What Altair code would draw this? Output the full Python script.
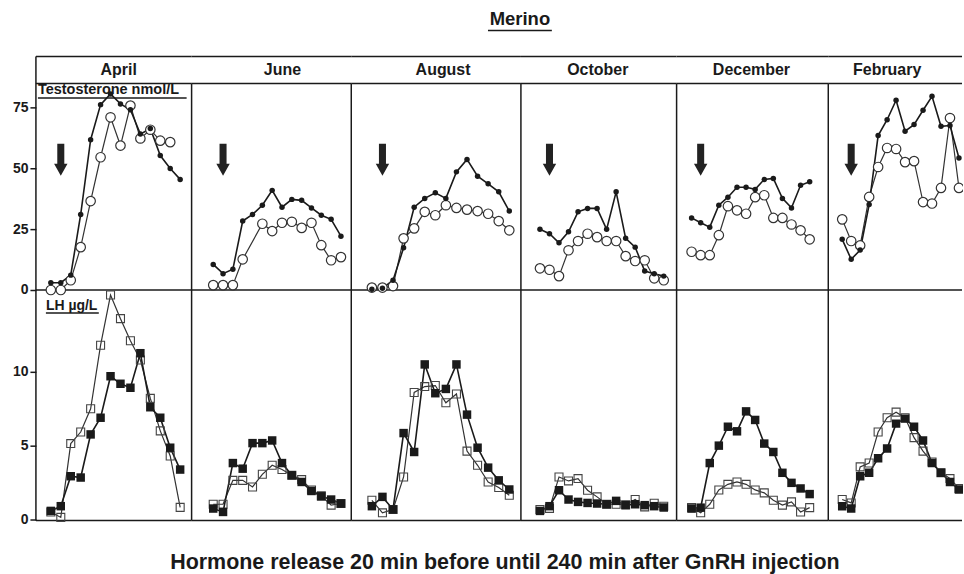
import altair as alt
import pandas as pd

# ---------------- data ----------------
months = ["April", "June", "August", "October", "December", "February"]
times = [-20, 0, 20, 40, 60, 80, 100, 120, 140, 160, 180, 200, 220, 240]

# Testosterone (nmol/L) - filled circles
apr_t_filled = [3.0, 3.0, 6.1, 31.0, 61.7, 76.1, 80.5, 76.4, 74.0, 64.0, 66.3, 55.2, 49.9, 45.4]
jun_t_filled = [10.5, 6.7, 8.5, 28.3, 31.0, 34.8, 40.9, 34.0, 37.2, 36.8, 33.7, 30.7, 29.0, 22.1]
aug_t_filled = [0.3, 0.7, 4.0, 17.3, 34.0, 37.6, 39.9, 37.6, 48.5, 53.6, 46.7, 43.6, 40.3, 32.4]
oct_t_filled = [24.9, 23.1, 19.4, 23.9, 32.1, 33.5, 33.5, 24.9, 40.3, 21.2, 17.6, 7.8, 6.7, 5.7]
dec_t_filled = [29.6, 27.6, 25.8, 34.8, 38.1, 42.2, 42.2, 41.3, 45.4, 45.8, 37.6, 33.7, 43.0, 44.4]
feb_t_filled = [20.8, 12.6, 16.4, 35.1, 63.4, 69.9, 77.9, 65.2, 67.9, 73.8, 79.5, 67.2, 67.5, 54.2]

# Testosterone - open circles
apr_t_open = [0.0, 0.0, 4.0, 17.6, 36.5, 54.5, 70.9, 59.3, 75.7, 62.2, 65.8, 61.3, 60.7, None]
jun_t_open = [2.0, 2.0, 2.0, 12.6, None, 27.2, 24.2, 27.6, 28.0, 25.5, 27.6, 18.4, 12.2, 13.5]
aug_t_open = [1.0, 1.0, 1.6, 21.2, 25.3, 32.1, 30.7, 34.8, 33.7, 33.0, 32.4, 31.3, 28.3, 24.5]
oct_t_open = [8.9, 8.3, 5.7, 16.3, 20.1, 23.1, 21.7, 20.1, 20.1, 13.9, 11.9, 12.2, 4.8, 4.0]
dec_t_open = [15.7, 14.3, 14.3, 22.5, 34.4, 32.7, 31.3, 38.1, 38.9, 29.6, 29.6, 26.9, 24.5, 20.8]
feb_t_open = [29.0, 20.1, 18.3, 38.2, 50.5, 58.3, 57.9, 52.5, 52.9, 36.1, 35.5, 41.9, 70.6, 41.9]

# LH (ug/L) - filled squares
apr_lh_filled = [0.58, 0.9, 2.93, 2.84, 5.76, 6.89, 9.7, 9.19, 8.92, 11.26, 7.6, 6.89, 4.86, 3.38]
jun_lh_filled = [0.74, 0.51, 3.82, 3.44, 5.17, 5.17, 5.35, 3.82, 2.99, 2.54, 1.93, 1.57, 1.35, 1.08]
aug_lh_filled = [0.9, 1.53, 0.68, 5.85, 4.57, 10.5, 8.55, 8.84, 10.5, 7.1, 4.86, 3.51, 2.65, 2.03]
oct_lh_filled = [0.58, 0.9, 1.98, 1.35, 1.19, 1.12, 1.08, 1.03, 1.26, 0.97, 1.03, 0.97, 0.9, 0.81]
dec_lh_filled = [0.74, 0.8, 3.82, 5.0, 6.28, 5.97, 7.32, 6.74, 5.14, 4.57, 3.16, 2.48, 2.1, 1.72]
feb_lh_filled = [0.9, 0.74, 2.93, 3.16, 4.14, 4.8, 6.49, 6.83, 6.28, 5.35, 3.82, 3.16, 2.54, 2.03]

# LH - open squares
apr_lh_open = [0.51, 0.14, 5.14, 5.92, 7.5, 11.8, 15.2, 13.6, 12.1, 10.8, 8.2, 6.0, 4.3, 0.82]
jun_lh_open = [1.03, 1.03, 2.65, 2.65, 2.2, 3.06, 3.67, 3.38, 2.99, 2.7, 2.0, 1.6, 0.97, 1.08]
aug_lh_open = [1.3, 0.45, 0.68, 2.88, 8.6, 9.0, 9.07, 7.9, 8.5, 4.63, 3.67, 2.54, 2.16, 1.64]
oct_lh_open = [0.68, 0.75, 2.88, 2.61, 2.77, 1.98, 1.53, 1.03, 1.03, 1.0, 1.35, 0.85, 1.1, 0.9]
dec_lh_open = [0.8, 0.45, 1.03, 2.0, 2.38, 2.54, 2.38, 2.0, 1.8, 1.3, 0.97, 1.19, 0.51, 0.8]
feb_lh_open = [1.35, 1.12, 3.56, 3.82, 5.92, 6.89, 7.27, 6.89, 5.54, 4.63, 3.89, 3.16, 2.77, 2.1]

t_ticks = [0, 25, 50, 75]
lh_ticks = [0, 5, 10]
gnrh_time = 0

t_filled = [apr_t_filled, jun_t_filled, aug_t_filled, oct_t_filled, dec_t_filled, feb_t_filled]
t_open = [apr_t_open, jun_t_open, aug_t_open, oct_t_open, dec_t_open, feb_t_open]
lh_filled = [apr_lh_filled, jun_lh_filled, aug_lh_filled, oct_lh_filled, dec_lh_filled, feb_lh_filled]
lh_open = [apr_lh_open, jun_lh_open, aug_lh_open, oct_lh_open, dec_lh_open, feb_lh_open]

# ---------------- layout / style ----------------
FONT = "Liberation Sans"
INK = "#1a1a1a"
widths = [156, 160, 170, 156, 152, 135]
xdomains = [[-50, 263], [-64, 261], [-59, 262], [-60, 267], [-53, 281], [-51, 249]]
month_x = [83, 91, 92, 77, 75, 59]
T_H, LH_H = 289, 285
T_DOMAIN = [0, 118.4]
LH_DOMAIN = [-3.72, 15.54]
ARROW = "M-0.22,-1L0.22,-1L0.22,0.25L0.42,0.25L0,1L-0.42,0.25L-0.22,0.25Z"

one = pd.DataFrame({"k": [0]})


def long_df(filled, opened):
    rows = []
    for t, v in zip(times, filled):
        if v is not None:
            rows.append({"time": t, "value": v, "series": "filled"})
    for t, v in zip(times, opened):
        if v is not None:
            rows.append({"time": t, "value": v, "series": "open"})
    return pd.DataFrame(rows)


def yaxis(vals):
    return alt.Axis(values=vals, title=None, domain=False, grid=False, tickSize=6,
                    tickWidth=1.5, tickColor=INK, labelFont=FONT, labelFontSize=14,
                    labelFontWeight="bold", labelColor=INK, labelPadding=2,
                    minExtent=35, maxExtent=35)


def hrule(w, y, x0=0):
    return alt.Chart(one).mark_rule(color=INK, strokeWidth=1.5).encode(
        x=alt.value(x0), x2=alt.value(w), y=alt.value(y))


def vrule(y0, y1):
    return alt.Chart(one).mark_rule(color=INK, strokeWidth=1.5).encode(
        x=alt.value(0), y=alt.value(y0), y2=alt.value(y1))


def label(text, x, y, size, align="center"):
    return alt.Chart(one).mark_text(text=text, font=FONT, fontSize=size, fontWeight="bold",
                                    color=INK, align=align, baseline="middle").encode(
        x=alt.value(x), y=alt.value(y))


def t_panel(i):
    w = widths[i]
    wr = w - 1 if i == 5 else w
    clip = i == 5
    df = long_df(t_filled[i], t_open[i])
    base = alt.Chart(df).encode(
        x=alt.X("time:Q", scale=alt.Scale(domain=xdomains[i], nice=False, zero=False), axis=None),
        y=alt.Y("value:Q", scale=alt.Scale(domain=T_DOMAIN, nice=False, zero=False),
                axis=yaxis(t_ticks) if i == 0 else None),
    )
    op = base.transform_filter(alt.datum.series == "open")
    fi = base.transform_filter(alt.datum.series == "filled")
    layers = [
        hrule(wr, 55), hrule(wr, 82), hrule(wr, 289),
        vrule(55 if i == 0 else 82, 289),
        op.mark_line(color="#333333", strokeWidth=1.2, clip=clip),
        fi.mark_line(color=INK, strokeWidth=1.6, clip=clip),
        op.mark_point(shape="circle", size=90, filled=True, color="white", stroke="#333333",
                      strokeWidth=1.2, opacity=1, clip=clip),
        fi.mark_point(shape="circle", size=30, filled=True, color=INK, opacity=1, clip=clip),
        alt.Chart(pd.DataFrame({"time": [gnrh_time], "value": [53.5]})).mark_point(
            shape=ARROW, size=1024, filled=True, color="#222222", opacity=1).encode(
            x="time:Q", y="value:Q"),
        label(months[i], month_x[i], 69, 16),
    ]
    if i == 0:
        layers.append(label("Testosterone nmol/L", 2, 89, 14.5, align="left"))
        layers.append(hrule(151, 96.5, 2))
    if i == 2:
        layers.append(label("Merino", 169, 17, 18.5))
        layers.append(hrule(201, 29, 137))
    return alt.layer(*layers).properties(width=w, height=T_H)


def lh_panel(i):
    w = widths[i]
    wr = w - 1 if i == 5 else w
    clip = i == 5
    df = long_df(lh_filled[i], lh_open[i])
    base = alt.Chart(df).encode(
        x=alt.X("time:Q", scale=alt.Scale(domain=xdomains[i], nice=False, zero=False), axis=None),
        y=alt.Y("value:Q", scale=alt.Scale(domain=LH_DOMAIN, nice=False, zero=False),
                axis=yaxis(lh_ticks) if i == 0 else None),
    )
    op = base.transform_filter(alt.datum.series == "open")
    fi = base.transform_filter(alt.datum.series == "filled")
    layers = [
        hrule(wr, 231), vrule(0, 231),
        op.mark_line(color="#333333", strokeWidth=1.2, clip=clip),
        fi.mark_line(color=INK, strokeWidth=1.6, clip=clip),
        op.mark_point(shape="square", size=64, filled=False, color="#444444",
                      strokeWidth=1.1, opacity=1, clip=clip),
        fi.mark_point(shape="square", size=72, filled=True, color=INK, opacity=1, clip=clip),
    ]
    if i == 0:
        layers.append(label("LH µg/L", 10, 16, 14, align="left"))
        layers.append(hrule(63, 23, 10))
    if i == 2:
        layers.append(label("Hormone release 20 min before until 240 min after GnRH injection",
                            154, 274, 21.5))
    return alt.layer(*layers).properties(width=w, height=LH_H)


panels = [t_panel(i) for i in range(6)] + [lh_panel(i) for i in range(6)]

chart = alt.concat(*panels, columns=6, spacing=0, bounds="flush", align="each").properties(
    padding={"left": 0, "top": 0, "right": 0, "bottom": 0},
    background="white",
).configure_view(stroke="transparent")

chart.save("out.html", embed_options={"renderer": "svg", "actions": False})
